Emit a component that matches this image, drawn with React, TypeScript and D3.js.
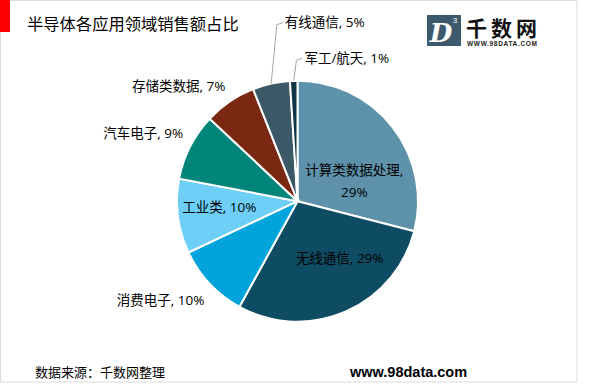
import React from "react";
import * as d3 from "d3";

const categories = ["计算类数据处理", "无线通信", "消费电子", "工业类", "汽车电子", "存储类数据", "有线通信", "军工/航天"];
const values = [29, 29, 10, 10, 9, 7, 5, 1];
const colors = ["#5E92AA", "#0E4C64", "#00A3DA", "#6DCFF5", "#00857B", "#7A2812", "#3A5866", "#0D3447"];
// label placement: angle (deg, clockwise from top) and distance factor of radius
const labelPolar = [
  { a: 70.7, f: 0.5, inside: true, split: true },
  { a: 143.6, f: 0.59, inside: true },
  { a: 234.2, f: 1.4 },
  { a: 265.6, f: 0.65, inside: true },
  { a: 293.8, f: 1.4 },
  { a: 314, f: 1.37 },
  { a: 9, f: 1.5, leader: true },
  { a: 19.6, f: 1.26, leader: true },
];

const W = 600, H = 385;
const cx = 297.5, cy = 201.2, R = 120.5;
const FONT = "'Open Sans', 'Noto Sans CJK SC', sans-serif";

export default function App() {
  React.useEffect(() => {
    document.body.style.margin = "0";
  }, []);
  const pie = d3.pie<number>().sort(null).value((d) => d);
  const arcs = pie(values);
  const arc = d3.arc<d3.PieArcDatum<number>>().innerRadius(0).outerRadius(R);
  const pol = (aDeg: number, r: number) => {
    const a = (aDeg * Math.PI) / 180;
    return [cx + r * Math.sin(a), cy - r * Math.cos(a)];
  };
  return (
    <svg width={W} height={H} style={{ display: "block", background: "#fff" }} fontFamily={FONT}>
      <rect x={0.5} y={0.5} width={576.5} height={381.5} fill="#fff" stroke="#dcdcdc" strokeWidth={1} />
      <rect x={0} y={0} width={10} height={32} fill="#FF0000" />
      <text x={27} y={30} fontSize={16.3} fill="#000">半导体各应用领域销售额占比</text>

      {/* logo */}
      <rect x={427} y={15} width={34} height={31} fill="#3D5A6C" />
      <text x={441} y={42} fontSize={26} fontWeight="bold" fontStyle="italic" fill="#fff" textAnchor="middle" fontFamily="'DejaVu Serif', serif">D</text>
      <text x={455} y={23} fontSize={8} fill="#fff" textAnchor="middle" fontFamily="Arial, 'Liberation Sans', sans-serif">3</text>
      <text x={466} y={35.5} fontSize={21} fontWeight="bold" fill="#111" textLength={71} fontFamily="'Noto Sans CJK SC', sans-serif">千数网</text>
      <text x={467} y={46} fontSize={6.5} fontWeight="bold" fill="#222" textLength={70} fontFamily="Arial, 'Liberation Sans', sans-serif">WWW.98DATA.COM</text>

      <g transform={`translate(${cx},${cy})`}>
        {arcs.map((d, i) => (
          <path key={i} d={arc(d) || ""} fill={colors[i]} stroke="#fff" strokeWidth={2} />
        ))}
      </g>

      {arcs.map((d, i) => {
        const lp = labelPolar[i];
        const mid = ((d.startAngle + d.endAngle) / 2) * (180 / Math.PI);
        const [x, y] = pol(lp.a, R * lp.f);
        const text = `${categories[i]}, ${values[i]}%`;
        if (lp.leader) {
          const [ex, ey] = pol(mid, R);
          const tx = x - (i === 6 ? 41 : 44);
          const bend = [tx - 8, y + 2];
          return (
            <g key={i}>
              <polyline points={`${ex},${ey} ${bend[0]},${bend[1]} ${tx - 2},${y}`} fill="none" stroke="#A6A6A6" strokeWidth={1} />
              <text x={tx} y={y} dy="0.35em" fontSize={13.5} fill="#000">{text}</text>
            </g>
          );
        }
        if (lp.split) {
          return (
            <text key={i} x={x} y={y} fontSize={13.5} fill="#000" textAnchor="middle">
              <tspan x={x} dy="-0.5em">{categories[i]},</tspan>
              <tspan x={x} dy="1.7em">{values[i]}%</tspan>
            </text>
          );
        }
        return (
          <text key={i} x={x} y={y} dy="0.35em" fontSize={13.5} fill="#000" textAnchor="middle">{text}</text>
        );
      })}

      <text x={35} y={377} fontSize={13} fill="#000" fontFamily="'Noto Sans CJK SC', sans-serif">数据来源：千数网整理</text>
      <text x={350} y={377} fontSize={14.5} fontWeight="bold" fill="#000" fontFamily="Arial, 'Liberation Sans', sans-serif">www.98data.com</text>
    </svg>
  );
}
